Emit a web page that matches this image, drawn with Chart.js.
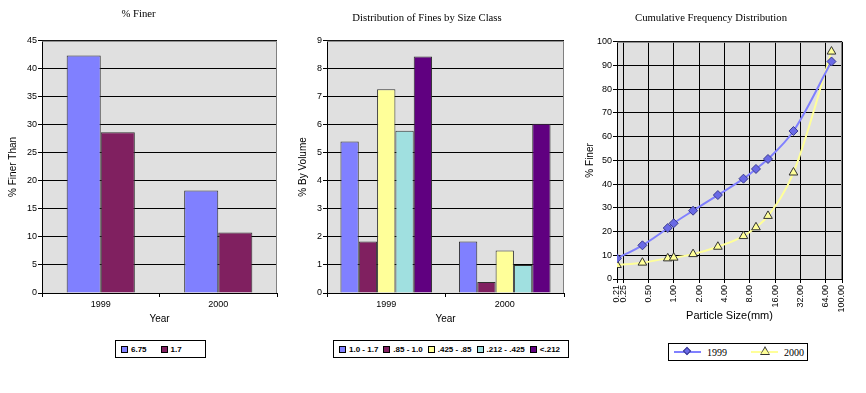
<!DOCTYPE html>
<html>
<head>
<meta charset="utf-8">
<script src="https://cdn.jsdelivr.net/npm/chart.js@4"></script>
<style>
  body { margin: 0; background: #fff; width: 866px; height: 393px; position: relative; overflow: hidden; }
  .box { position: absolute; top: 0; }
  .legend { position: absolute; border: 1px solid #000; background: #fff; display: flex; align-items: center;
    font-family: "Liberation Sans", Arial, sans-serif; font-size: 8px; font-weight: bold; box-sizing: border-box; white-space: nowrap; }
  .legend .item { display: flex; align-items: center; white-space: nowrap; flex: none; }
  .sw { display: inline-block; width: 5px; height: 5px; border: 1px solid #000; margin-right: 3px; }
  .legend.serif { font-family: "Liberation Serif", serif; font-size: 10px; font-weight: normal; }
  .ln { position: relative; width: 27px; height: 2px; margin-right: 6px; }
  .dia { position: absolute; left: 10px; top: -3px; width: 6px; height: 6px; transform: rotate(45deg);
    background: #6a6ae6; border: 1px solid #3a3a90; box-sizing: border-box; }
  .tri { position: absolute; left: 9px; top: -5px; width: 0; height: 0; border-left: 5px solid transparent;
    border-right: 5px solid transparent; border-bottom: 9px solid #333; }
  .tri::after { content: ""; position: absolute; left: -4px; top: 2px; border-left: 4px solid transparent;
    border-right: 4px solid transparent; border-bottom: 6px solid #ffff99; }
</style>
</head>
<body>
<div class="box" style="left:0"><canvas id="finerChart" width="290" height="330"></canvas></div>
<div class="box" style="left:290px"><canvas id="finesChart" width="290" height="330"></canvas></div>
<div class="box" style="left:580px"><canvas id="cumChart" width="286" height="330"></canvas></div>
<div id="legend1" class="legend" style="left:115px; top:340px; width:91px; height:18px; padding-left:5px; gap:14px"></div>
<div id="legend2" class="legend" style="left:333px; top:340px; width:236px; height:18px; padding-left:5px; gap:5px"></div>
<div id="legend3" class="legend serif" style="left:668px; top:343px; width:140px; height:18px; padding-left:5px; gap:14px"></div>
<script>
// % Finer chart
const years = ["1999", "2000"];
const finerSeries = ["6.75", "1.7"];
const finer675 = [42.4, 18.3];
const finer17 = [28.7, 10.8];

// Distribution of fines by size class
const sizeClasses = ["1.0 - 1.7", ".85 - 1.0", ".425 - .85", ".212 - .425", "<.212"];
const class10to17 = [5.41, 1.84];
const class085to10 = [1.84, 0.39];
const class0425to085 = [7.27, 1.52];
const class0212to0425 = [5.79, 1.0];
const classUnder0212 = [8.44, 6.04];

// Cumulative frequency distribution
const sieveSizes = [0.212, 0.425, 0.85, 1.0, 1.7, 3.35, 6.75, 9.5, 13.2, 26.5, 75];
const pctFiner1999 = [8.7, 14.2, 21.5, 23.5, 28.8, 35.4, 42.3, 46.4, 50.6, 62.4, 91.7];
const pctFiner2000 = [5.9, 6.9, 8.7, 9.0, 10.5, 13.6, 18.1, 21.8, 26.6, 44.9, 95.9];
const sizeTicks = [0.212, 0.25, 0.5, 1, 2, 4, 8, 16, 32, 64, 100];

const barColors = ["#8080ff", "#802060", "#ffff99", "#a0e0e0", "#600080"];

Chart.defaults.font.family = "'Liberation Sans', Arial, sans-serif";
Chart.defaults.font.size = 9;
Chart.defaults.color = "#000";
Chart.defaults.animation = false;

const plotBg = {
  id: "plotBg",
  beforeDraw(chart) {
    const { ctx, chartArea: a } = chart;
    ctx.save();
    ctx.fillStyle = "#e0e0e0";
    ctx.fillRect(a.left, a.top, a.width, a.height);
    ctx.restore();
  },
  beforeDatasetsDraw(chart) {
    const { ctx, chartArea: a } = chart;
    ctx.save();
    ctx.strokeStyle = "#808080";
    ctx.lineWidth = 1;
    ctx.beginPath();
    ctx.moveTo(a.left, a.top + 0.5);
    ctx.lineTo(a.right - 0.5, a.top + 0.5);
    ctx.lineTo(a.right - 0.5, a.bottom);
    ctx.stroke();
    ctx.restore();
  }
};

function titleOpts(text, top, bottom) {
  return {
    display: true, text: text, color: "#000",
    font: { family: "'Liberation Serif', 'Times New Roman', serif", size: 10.7, weight: "normal", lineHeight: 1.2 },
    padding: { top: top, bottom: bottom }
  };
}

function yAxis(max, step, title, width, titlePad) {
  return {
    min: 0, max: max,
    ticks: { stepSize: step, padding: 1, font: { size: 9 } },
    grid: { color: "#000", tickLength: 4 },
    border: { color: "#000" },
    title: { display: true, text: title, font: { size: 10 }, padding: { top: titlePad, bottom: 0 } },
    afterFit(s) { s.width = width; }
  };
}

function xCatAxis(height, titlePad) {
  return {
    grid: { display: true, drawOnChartArea: false, offset: true, color: "#000", tickLength: 4 },
    border: { color: "#000" },
    ticks: { padding: 2, font: { size: 9 } },
    title: { display: true, text: "Year", font: { size: 10 }, padding: { top: 0, bottom: titlePad } },
    afterFit(s) { s.height = height; }
  };
}

new Chart(document.getElementById("finerChart"), {
  type: "bar",
  data: {
    labels: years,
    datasets: [
      { label: finerSeries[0], data: finer675, backgroundColor: barColors[0] },
      { label: finerSeries[1], data: finer17, backgroundColor: barColors[1] }
    ].map(d => Object.assign(d, { borderColor: "#303030", borderWidth: 1, categoryPercentage: 0.58, barPercentage: 1 }))
  },
  options: {
    responsive: false,
    layout: { padding: { left: 0, right: 13, bottom: 0 } },
    plugins: { legend: { display: false }, tooltip: { enabled: false }, title: titleOpts("% Finer", 8, 20) },
    scales: { x: xCatAxis(37, 5), y: yAxis(45, 5, "% Finer Than", 42, 7) }
  },
  plugins: [plotBg]
});

const classData = [class10to17, class085to10, class0425to085, class0212to0425, classUnder0212];
new Chart(document.getElementById("finesChart"), {
  type: "bar",
  data: {
    labels: years,
    datasets: sizeClasses.map((name, i) => ({
      label: name, data: classData[i], backgroundColor: barColors[i],
      borderColor: "#303030", borderWidth: 1, categoryPercentage: 0.773, barPercentage: 1
    }))
  },
  options: {
    responsive: false,
    layout: { padding: { left: 0, right: 16, bottom: 0 } },
    plugins: { legend: { display: false }, tooltip: { enabled: false }, title: titleOpts("Distribution of Fines by Size Class", 12, 16) },
    scales: { x: xCatAxis(37, 5), y: yAxis(9, 1, "% By Volume", 37, 7) }
  },
  plugins: [plotBg]
});

new Chart(document.getElementById("cumChart"), {
  type: "line",
  data: {
    datasets: [
      {
        label: "1999", data: sieveSizes.map((x, i) => ({ x: x, y: pctFiner1999[i] })),
        borderColor: "#8080ff", borderWidth: 2, cubicInterpolationMode: "monotone",
        pointStyle: "rectRot", pointRadius: 4.5, pointBackgroundColor: "#6a6ae6", pointBorderColor: "#3a3a90", pointBorderWidth: 1
      },
      {
        label: "2000", data: sieveSizes.map((x, i) => ({ x: x, y: pctFiner2000[i] })),
        borderColor: "#ffff99", borderWidth: 2, cubicInterpolationMode: "monotone",
        pointStyle: "triangle", pointRadius: 5, pointBackgroundColor: "#ffff99", pointBorderColor: "#333", pointBorderWidth: 1
      }
    ]
  },
  options: {
    responsive: false,
    layout: { padding: { left: 0, right: 24, bottom: 0 } },
    plugins: { legend: { display: false }, tooltip: { enabled: false }, title: titleOpts("Cumulative Frequency Distribution", 12, 17) },
    scales: {
      x: {
        type: "logarithmic", min: 0.212, max: 100,
        grid: { color: "#000", tickLength: 4 },
        border: { color: "#000" },
        afterBuildTicks(s) { s.ticks = sizeTicks.map(v => ({ value: v })); },
        ticks: { autoSkip: false, minRotation: 90, maxRotation: 90, padding: 2, font: { size: 9 },
          callback: v => Number(v).toFixed(2) },
        title: { display: true, text: "Particle Size(mm)", font: { size: 11 }, padding: { top: 0, bottom: 7 } },
        afterFit(s) { s.height = 51; }
      },
      y: yAxis(100, 10, "% Finer", 37, 4)
    }
  },
  plugins: [plotBg]
});

// legends
const legend1 = document.getElementById("legend1");
finerSeries.forEach((name, i) => {
  legend1.insertAdjacentHTML("beforeend", `<span class="item"><span class="sw" style="background:${barColors[i]}"></span>${name}</span>`);
});
const legend2 = document.getElementById("legend2");
sizeClasses.forEach((name, i) => {
  legend2.insertAdjacentHTML("beforeend", `<span class="item"><span class="sw" style="background:${barColors[i]}"></span>${name.replace("<", "&lt;")}</span>`);
});
document.getElementById("legend3").innerHTML =
  `<span class="item"><span class="ln" style="background:#8080ff"><span class="dia"></span></span>1999</span>` +
  `<span class="item" style="margin-left:10px"><span class="ln" style="background:#ffff99"><span class="tri"></span></span>2000</span>`;
</script>
</body>
</html>
